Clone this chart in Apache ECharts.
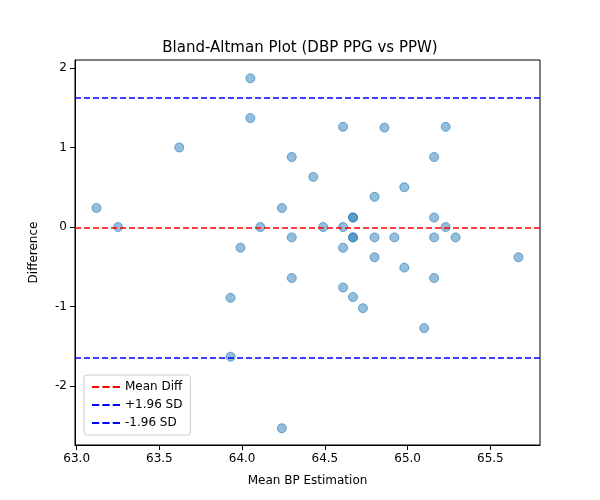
<!DOCTYPE html>
<html>
<head>
<meta charset="UTF-8">
<script src="https://cdn.jsdelivr.net/npm/echarts@6.0.0/dist/echarts.min.js"></script>
<style>
  * { margin: 0; padding: 0; }
  body { background: #fff; }
  #chart { width: 600px; height: 500px; }
</style>
</head>
<body>
<div id="chart"></div>
<script>
// 数据
var meanBP = [63.12, 63.25, 63.62, 63.99, 63.93, 63.93, 64.05, 64.05, 64.11, 64.24, 64.24,
  64.30, 64.30, 64.30, 64.43, 64.49, 64.61, 64.61, 64.61, 64.61, 64.67, 64.67, 64.67, 64.67,
  64.67, 64.73, 64.80, 64.80, 64.80, 64.86, 64.92, 64.98, 64.98, 65.10, 65.16, 65.16, 65.16,
  65.16, 65.23, 65.23, 65.29, 65.67];
var diffBP = [0.24, 0, 1.0, -0.26, -0.89, -1.63, 1.87, 1.37, 0, 0.24, -2.53,
  0.88, -0.13, -0.64, 0.63, 0, 1.26, 0, -0.26, -0.76, 0.12, 0.12, -0.13, -0.13,
  -0.88, -1.02, 0.38, -0.13, -0.38, 1.25, -0.13, 0.5, -0.51, -1.27, 0.88, 0.12, -0.13,
  -0.64, 1.26, 0, -0.13, -0.38];
var meanDiff = -0.015;
var upperSD = 1.62;
var lowerSD = -1.64;
var xTicks = [63.0, 63.5, 64.0, 64.5, 65.0, 65.5];
var yTicks = [-2, -1, 0, 1, 2];

var points = meanBP.map(function (x, i) { return [x, diffBP[i]]; });
var dashIcon = 'path://M0,4h7v2h-7z M10,4h7v2h-7z M20,4h7v2h-7z';

function refLine(name, value, color) {
  return {
    name: name, type: 'line', data: [], symbol: 'none',
    lineStyle: { color: color, type: [6, 3], width: 1.5 },
    itemStyle: { color: color },
    markLine: {
      silent: true, symbol: 'none', label: { show: false },
      lineStyle: { color: color, type: [6, 3], width: 1.5 },
      data: [{ yAxis: value }]
    }
  };
}

var myChart = echarts.init(document.getElementById('chart'));
var axisText = { color: '#000', fontSize: 12, fontFamily: 'DejaVu Sans' };
var option = {
  animation: false,
  title: {
    text: 'Bland-Altman Plot (DBP PPG vs PPW)', left: 'center', top: 36,
    textStyle: { fontSize: 15, fontWeight: 'normal', color: '#000', fontFamily: 'DejaVu Sans' }
  },
  grid: { left: 75, right: 60, top: 60, bottom: 55, show: true, borderColor: '#000', borderWidth: 1 },
  legend: {
    orient: 'vertical', left: 84, bottom: 65,
    data: [
      { name: 'Mean Diff', icon: dashIcon },
      { name: '+1.96 SD', icon: dashIcon },
      { name: '-1.96 SD', icon: dashIcon }
    ],
    itemWidth: 28, itemHeight: 10, itemGap: 6,
    borderColor: '#ccc', borderWidth: 1, borderRadius: 3, padding: [6, 8],
    backgroundColor: '#fff',
    textStyle: { fontSize: 12, color: '#000', fontFamily: 'DejaVu Sans' }
  },
  xAxis: {
    type: 'value', min: 62.99, max: 65.8,
    name: 'Mean BP Estimation', nameLocation: 'middle', nameGap: 30,
    nameTextStyle: axisText,
    axisLine: { onZero: false, lineStyle: { color: '#000' } },
    axisTick: { show: true, customValues: xTicks, lineStyle: { color: '#000' } },
    axisLabel: Object.assign({ customValues: xTicks, formatter: function (v) { return v.toFixed(1); } }, axisText),
    splitLine: { show: false }
  },
  yAxis: {
    type: 'value', min: -2.74, max: 2.1,
    name: 'Difference', nameLocation: 'middle', nameGap: 35,
    nameTextStyle: axisText,
    axisLine: { show: true, onZero: false, lineStyle: { color: '#000' } },
    axisTick: { show: true, customValues: yTicks, lineStyle: { color: '#000' } },
    axisLabel: Object.assign({ customValues: yTicks }, axisText),
    splitLine: { show: false }
  },
  series: [
    {
      type: 'scatter', data: points, symbolSize: 9, z: 1,
      itemStyle: { color: 'rgba(31,119,180,0.6)', borderColor: 'rgba(31,119,180,0.75)', borderWidth: 1 }
    },
    refLine('Mean Diff', meanDiff, '#ff0000'),
    refLine('+1.96 SD', upperSD, '#0000ff'),
    refLine('-1.96 SD', lowerSD, '#0000ff')
  ]
};
myChart.setOption(option);
</script>
</body>
</html>
